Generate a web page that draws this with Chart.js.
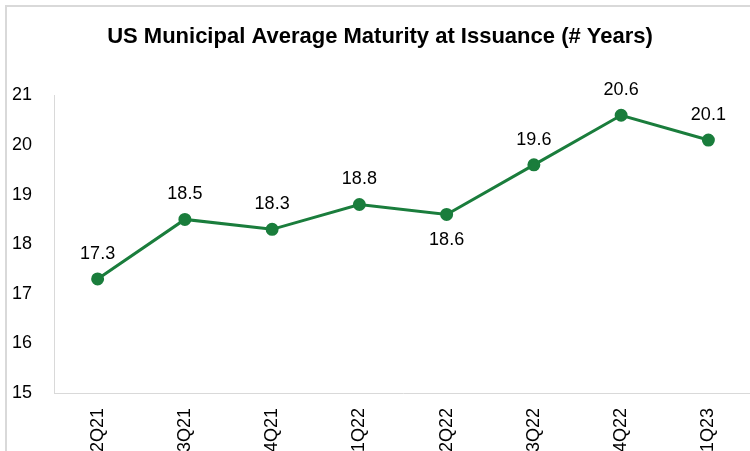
<!DOCTYPE html>
<html>
<head>
<meta charset="utf-8">
<script src="https://cdn.jsdelivr.net/npm/chart.js@4"></script>
<style>
  html, body { margin: 0; padding: 0; background: #fff; overflow: hidden; }
  .frame { position: absolute; left: 5px; top: 5px; width: 800px; height: 500px;
           border-left: 2px solid #d9d9d9; border-top: 2px solid #d9d9d9; }
  #myChart { position: absolute; left: 0; top: 0; }
</style>
</head>
<body>
<div class="frame"></div>
<canvas id="myChart" width="760" height="470"></canvas>
<script>
// Chart data
const quarters = ['2Q21', '3Q21', '4Q21', '1Q22', '2Q22', '3Q22', '4Q22', '1Q23'];
const avgMaturity = [17.3, 18.5, 18.3, 18.8, 18.6, 19.6, 20.6, 20.1];
const labelBelow = [false, false, false, false, true, false, false, false];

const green = '#1a7d3c';
const font = 'Liberation Sans, Arial, sans-serif';

// Draws the value above (or below) each point
const valueLabels = {
    id: 'valueLabels',
    afterDatasetsDraw(chart) {
        const ctx = chart.ctx;
        const meta = chart.getDatasetMeta(0);
        ctx.save();
        ctx.font = '18px ' + font;
        ctx.fillStyle = '#000';
        ctx.textAlign = 'center';
        ctx.textBaseline = 'middle';
        meta.data.forEach((pt, i) => {
            const dy = labelBelow[i] ? 26 : -25;
            ctx.fillText(avgMaturity[i].toFixed(1), pt.x, pt.y + dy);
        });
        ctx.restore();
    }
};

const ctx = document.getElementById('myChart').getContext('2d');
const myChart = new Chart(ctx, {
    type: 'line',
    data: {
        labels: quarters,
        datasets: [{
            data: avgMaturity,
            borderColor: green,
            backgroundColor: green,
            borderWidth: 3,
            pointRadius: 5,
            pointHoverRadius: 5,
            tension: 0
        }]
    },
    options: {
        responsive: false,
        animation: false,
        layout: { padding: { left: 0, right: 0, top: 0, bottom: 0 } },
        scales: {
            x: {
                offset: true,
                grid: { display: false, drawTicks: false },
                border: { display: true, color: '#d9d9d9', width: 1 },
                ticks: {
                    minRotation: 90,
                    maxRotation: 90,
                    padding: 15,
                    color: '#000',
                    font: { family: font, size: 18 }
                },
                afterFit(scale) { scale.height = 77; }
            },
            y: {
                min: 15,
                max: 21,
                grid: { display: false, drawTicks: false },
                border: { display: true, color: '#d9d9d9', width: 1 },
                ticks: {
                    stepSize: 1,
                    padding: 22,
                    color: '#000',
                    font: { family: font, size: 18 }
                },
                afterFit(scale) { scale.width = 54; }
            }
        },
        plugins: {
            legend: { display: false },
            tooltip: { enabled: false },
            title: {
                display: true,
                text: 'US Municipal Average Maturity at Issuance (# Years)',
                color: '#000',
                font: { family: font, size: 22, weight: 'bold' },
                padding: { top: 24, bottom: 45 }
            }
        }
    },
    plugins: [valueLabels]
});
</script>
</body>
</html>
